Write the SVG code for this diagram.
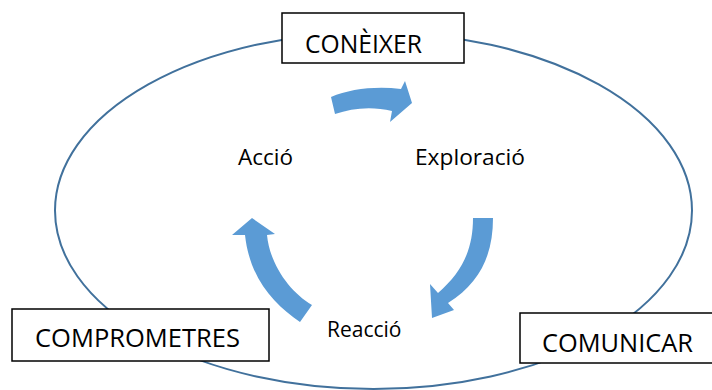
<svg xmlns="http://www.w3.org/2000/svg" width="712" height="390" viewBox="0 0 712 390">
<style>
.box{fill:#fff;stroke:#000;stroke-width:1.5}
.big{font-family:"Open Sans","Noto Sans",sans-serif;font-size:26px;fill:#000}
.small{font-family:"Open Sans","Noto Sans",sans-serif;font-size:21px;fill:#000}
.arrow{fill:#5B9BD5}
</style>
<rect width="712" height="390" fill="#fff"/>
<g id="cycle">
<ellipse cx="373.5" cy="210.6" rx="318.5" ry="178.4" fill="none" stroke="#41719C" stroke-width="2"/>
</g>
<g id="connectors">
<path class="arrow" d="M331,97 C350,89 375,86 401,89 L405,81 L412,103 L390,122 L392,111 C372,106 352,108 335,114 Z"/>
<path class="arrow" d="M473,218 L493,218 C493,255 480,283 448,303 L454,310 L432,318 L430,284 L438,293 C462,272 473,250 473,218 Z"/>
<path class="arrow" d="M300,322 C275,305 250,280 245,235 L232,235 L252,218 L275,234 L267,235 C270,265 290,292 312,305 Z"/>
</g>
<g id="coneixer">
<rect class="box" x="282" y="13" width="182" height="50"/>
<text class="big" x="305" y="53" textLength="117" lengthAdjust="spacingAndGlyphs">CONÈIXER</text>
</g>
<g id="comprometres">
<rect class="box" x="12" y="309" width="257" height="52"/>
<text class="big" x="35" y="347" textLength="205" lengthAdjust="spacingAndGlyphs">COMPROMETRES</text>
</g>
<g id="comunicar">
<rect class="box" x="520" y="313" width="200" height="50"/>
<text class="big" x="542" y="352" textLength="151" lengthAdjust="spacingAndGlyphs">COMUNICAR</text>
</g>
<g id="accio">
<text class="small" x="238" y="165" textLength="55" lengthAdjust="spacingAndGlyphs">Acció</text>
</g>
<g id="exploracio">
<text class="small" x="415" y="165" textLength="110" lengthAdjust="spacingAndGlyphs">Exploració</text>
</g>
<g id="reaccio">
<text class="small" x="327" y="337" font-size="19">Reacció</text>
</g>
</svg>
